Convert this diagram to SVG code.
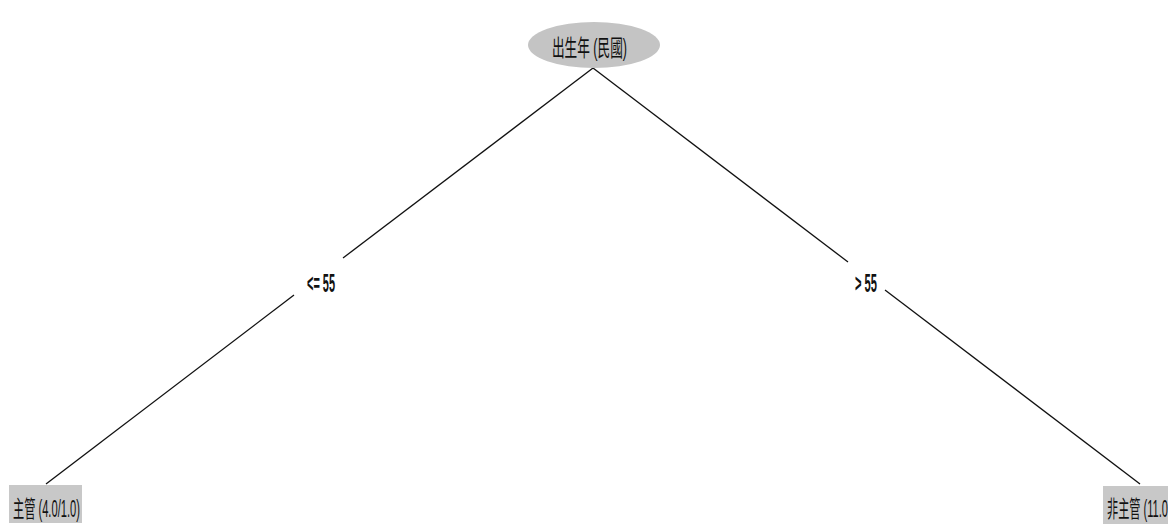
<svg xmlns="http://www.w3.org/2000/svg" width="1168" height="528" viewBox="0 0 1168 528">
<style>
.t{font-family:"Liberation Sans","Noto Sans CJK TC",sans-serif;font-size:23px;fill:#111}
.l{font-weight:bold;font-size:25px}
.e{stroke:#111;stroke-width:1.3;fill:none}
</style>
<rect width="1168" height="528" fill="#fff"/>
<g id="edges">
<line class="e" x1="593" y1="68" x2="343" y2="258"/>
<line class="e" x1="294" y1="295" x2="46" y2="484"/>
<line class="e" x1="593" y1="68" x2="848" y2="262"/>
<line class="e" x1="885" y1="290" x2="1140" y2="484"/>
<text class="t l" x="307" y="292" textLength="28" lengthAdjust="spacingAndGlyphs">&lt;= 55</text>
<text class="t l" x="855" y="292" textLength="22" lengthAdjust="spacingAndGlyphs">&gt; 55</text>
</g>
<g id="root">
<ellipse cx="594" cy="45" rx="66" ry="23" fill="#c4c4c4"/>
<text class="t" x="552" y="56" textLength="75" lengthAdjust="spacingAndGlyphs" fill="#333">出生年 (民國)</text>
</g>
<g id="leaf-left">
<rect x="9" y="485" width="73" height="38" fill="#c8c8c8"/>
<text class="t" x="13" y="517" textLength="67" lengthAdjust="spacingAndGlyphs">主管 (4.0/1.0)</text>
</g>
<g id="leaf-right">
<rect x="1103" y="486" width="70" height="38" fill="#c8c8c8"/>
<text class="t" x="1107" y="517" textLength="61" lengthAdjust="spacingAndGlyphs">非主管 (11.0</text>
</g>
</svg>
